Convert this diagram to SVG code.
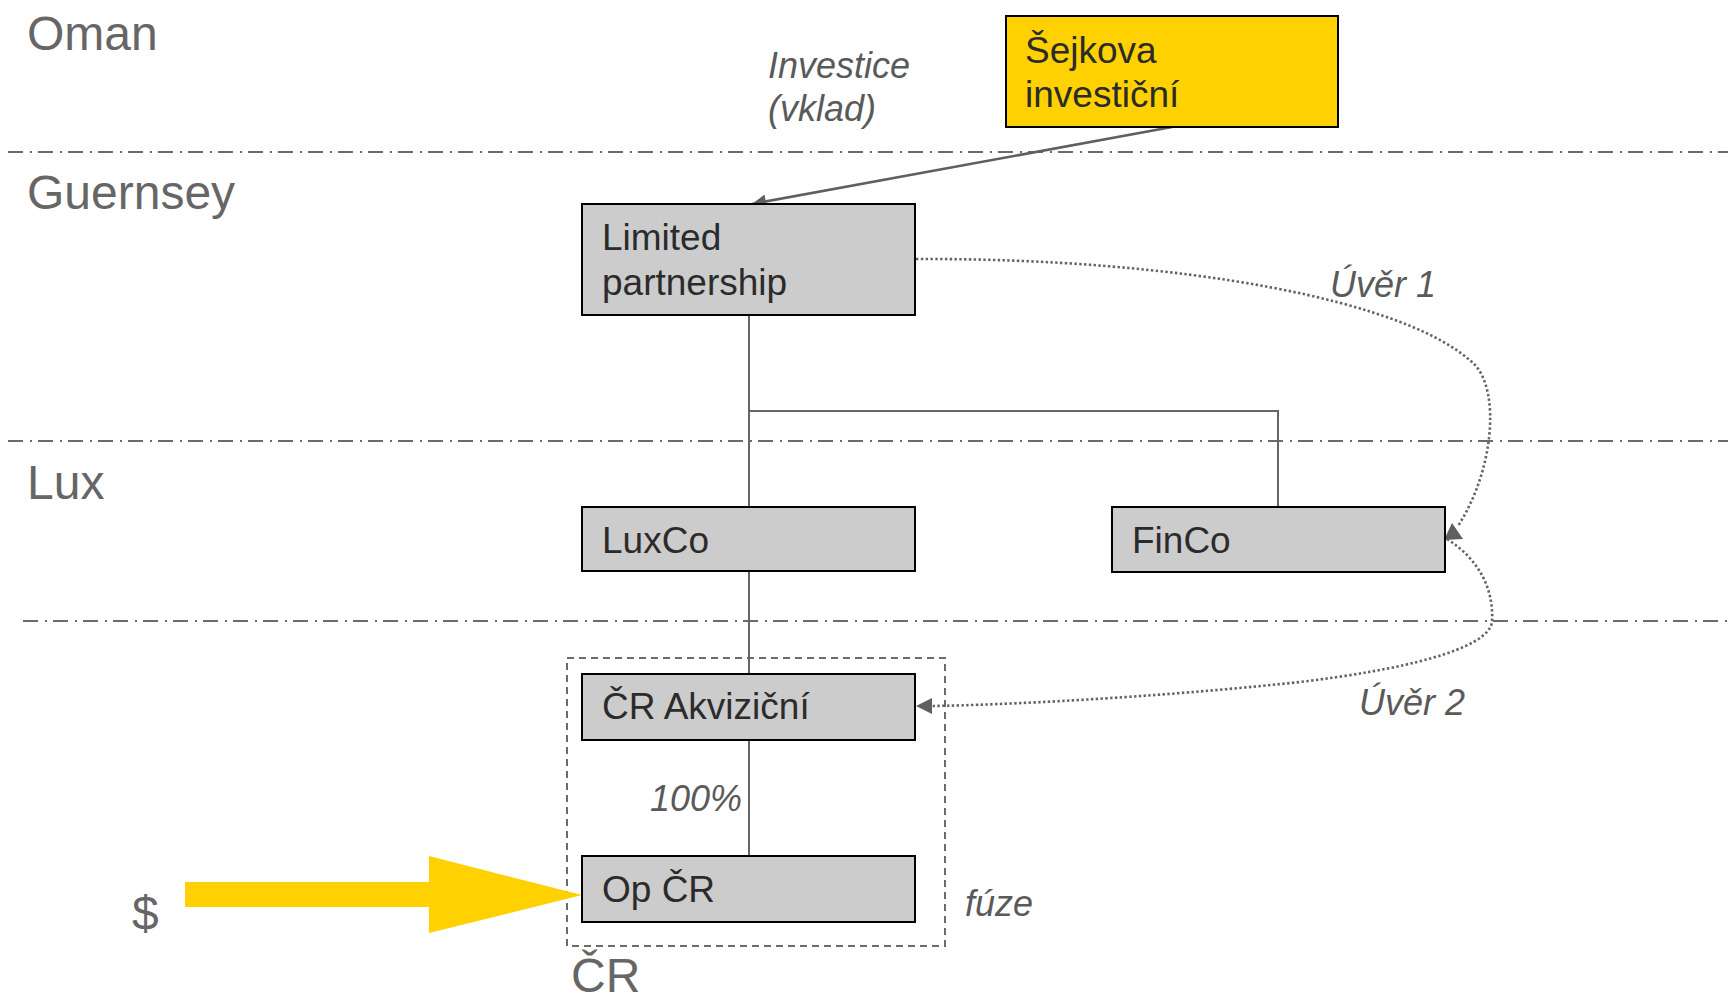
<svg xmlns="http://www.w3.org/2000/svg" width="1728" height="1004" viewBox="0 0 1728 1004">
<style>
.region{font-family:"Liberation Sans",Arial,sans-serif;font-size:48px;fill:#666666}
.node rect{fill:#CCCCCC;stroke:#000000;stroke-width:2}
.node text{font-family:"Liberation Sans",Arial,sans-serif;font-size:37px;fill:#2b2b2b}
.lbl{font-family:"Liberation Sans",Arial,sans-serif;font-size:36px;font-style:italic;fill:#5a5a5a}
.sep{stroke:#6b6b6b;stroke-width:2;stroke-dasharray:15 7 2 6;fill:none}
.tree{stroke:#666666;stroke-width:2;fill:none}
.dot{stroke:#636363;stroke-width:2.6;stroke-dasharray:2.4 2.4;fill:none}
.arr{stroke:#5f5f5f;stroke-width:2.6;fill:none}
</style>
<defs>
<marker id="ah" viewBox="0 0 10 10" refX="10" refY="5" markerUnits="userSpaceOnUse" markerWidth="16" markerHeight="14" orient="auto">
<path d="M0,0 L10,5 L0,10 z" fill="#5f5f5f"/>
</marker>
</defs>
<rect width="1728" height="1004" fill="#ffffff"/>

<g id="separators">
<line class="sep" x1="8" y1="152" x2="1728" y2="152"/>
<line class="sep" x1="8" y1="441" x2="1728" y2="441"/>
<line class="sep" x1="23" y1="621" x2="1728" y2="621"/>
</g>

<g id="regions">
<text class="region" x="27" y="50">Oman</text>
<text class="region" x="27" y="209">Guernsey</text>
<text class="region" x="27" y="499">Lux</text>
<text class="region" x="571" y="992">ČR</text>
<text class="region" x="132" y="930">$</text>
</g>

<g id="fuze-box">
<rect x="567" y="658" width="378" height="288" fill="none" stroke="#6b6b6b" stroke-width="2" stroke-dasharray="7 5"/>
<text class="lbl" x="965" y="916">fúze</text>
</g>

<g id="connectors">
<line class="arr" x1="1172" y1="127" x2="752" y2="204" marker-end="url(#ah)"/>
<polyline class="tree" points="749,315 749,507"/>
<polyline class="tree" points="749,411 1278,411 1278,507"/>
<line class="tree" x1="749" y1="571" x2="749" y2="674"/>
<line class="tree" x1="749" y1="740" x2="749" y2="856"/>
<path class="dot" d="M916,259 C1180,258 1410,300 1475,365 C1500,392 1494,470 1458,526"/>
<polygon points="1452,523 1463,539 1444,540" fill="#5f5f5f"/>
<path class="dot" d="M1447,539 C1480,560 1494,590 1492,622 C1488,650 1400,670 1300,682 C1150,698 1000,705 932,706"/>
<polygon points="916,706 932,698 932,714" fill="#5f5f5f"/>
<polygon points="185,882 429,882 429,856 582,895 429,933 429,907 185,907" fill="#FFD100"/>
</g>

<g id="labels">
<text class="lbl" x="768" y="78">Investice</text>
<text class="lbl" x="768" y="121">(vklad)</text>
<text class="lbl" x="1330" y="297">Úvěr 1</text>
<text class="lbl" x="1359" y="715">Úvěr 2</text>
<text class="lbl" x="650" y="811">100%</text>
</g>

<g id="node-sejkova" class="node">
<rect x="1006" y="16" width="332" height="111" style="fill:#FFD100"/>
<text x="1025" y="63">Šejkova</text>
<text x="1025" y="107">investiční</text>
</g>

<g id="node-lp" class="node">
<rect x="582" y="204" width="333" height="111"/>
<text x="602" y="250">Limited</text>
<text x="602" y="295">partnership</text>
</g>

<g id="node-luxco" class="node">
<rect x="582" y="507" width="333" height="64"/>
<text x="602" y="553">LuxCo</text>
</g>

<g id="node-finco" class="node">
<rect x="1112" y="507" width="333" height="65"/>
<text x="1132" y="553">FinCo</text>
</g>

<g id="node-akvizicni" class="node">
<rect x="582" y="674" width="333" height="66"/>
<text x="602" y="719">ČR Akviziční</text>
</g>

<g id="node-opcr" class="node">
<rect x="582" y="856" width="333" height="66"/>
<text x="602" y="902">Op ČR</text>
</g>
</svg>
